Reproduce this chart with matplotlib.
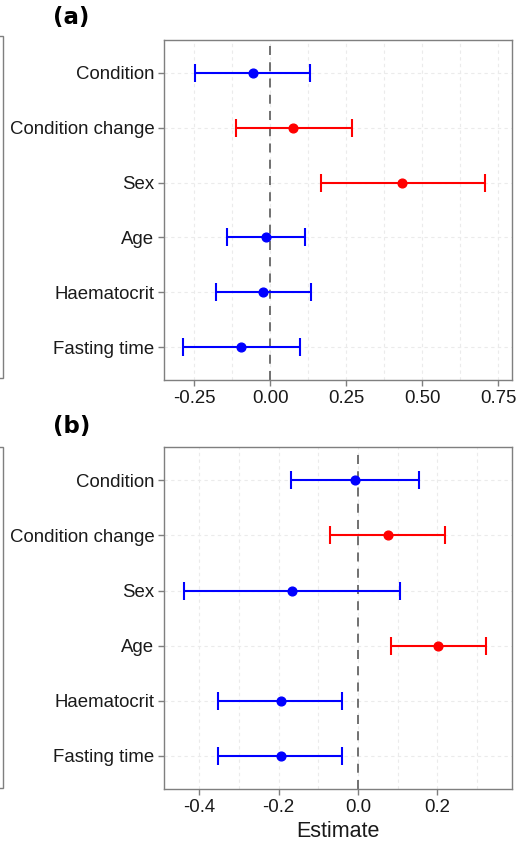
import numpy as np
import matplotlib.pyplot as plt
from matplotlib.patches import Rectangle

# Terms, top to bottom
terms = ['Condition', 'Condition change', 'Sex', 'Age', 'Haematocrit', 'Fasting time']

# Panel (a)
est_a = [-0.058, 0.076, 0.434, -0.015, -0.023, -0.096]
lo_a = [-0.247, -0.114, 0.166, -0.143, -0.179, -0.289]
hi_a = [0.131, 0.267, 0.706, 0.113, 0.135, 0.097]
flag_a = [0, 1, 1, 0, 0, 0]

# Panel (b)
est_b = [-0.008, 0.076, -0.166, 0.202, -0.193, -0.195]
lo_b = [-0.168, -0.071, -0.438, 0.083, -0.354, -0.353]
hi_b = [0.153, 0.219, 0.107, 0.323, -0.041, -0.041]
flag_b = [0, 1, 0, 1, 0, 0]

plt.rcParams['font.family'] = ['Liberation Sans', 'DejaVu Sans']

fig = plt.figure(figsize=(5.17, 8.44), dpi=100)
ax_a = fig.add_axes([0.3172, 0.5498, 0.6731, 0.4028])
ax_b = fig.add_axes([0.3172, 0.0652, 0.6731, 0.4049])


def forest(ax, est, lo, hi, flag, xlim, major, minor):
    y = np.arange(len(terms))
    ax.set_xlim(xlim)
    ax.set_ylim(len(terms) - 0.4, -0.6)
    ax.set_xticks(major)
    ax.set_xticks(minor, minor=True)
    ax.set_yticks(y)
    ax.set_yticklabels(terms)
    ax.grid(True, which='both', axis='x', color='#ebebeb', ls=(0, (3, 3)), lw=0.8)
    ax.grid(True, which='major', axis='y', color='#ebebeb', ls=(0, (3, 3)), lw=0.8)
    ax.set_axisbelow(True)
    ax.axvline(0, color='#666666', ls=(0, (5, 4)), lw=1.3, zorder=1)
    for i in range(len(terms)):
        c = '#ff0000' if flag[i] else '#0000ff'
        ax.errorbar(est[i], y[i], xerr=[[est[i] - lo[i]], [hi[i] - est[i]]],
                    fmt='o', color=c, ms=6.3, elinewidth=1.5, capsize=6.5,
                    capthick=1.5, zorder=3)
    for s in ax.spines.values():
        s.set_color('#7f7f7f')
        s.set_linewidth(1.0)
    ax.tick_params(axis='both', which='major', length=4, color='#7f7f7f',
                   width=1.0, labelsize=13.4, labelcolor='#1a1a1a', pad=3)
    ax.tick_params(axis='x', which='minor', length=0)


forest(ax_a, est_a, lo_a, hi_a, flag_a, (-0.35, 0.795),
       [-0.25, 0, 0.25, 0.5, 0.75], [-0.125, 0.125, 0.375, 0.625])
ax_a.set_xticklabels(['-0.25', '0.00', '0.25', '0.50', '0.75'])

forest(ax_b, est_b, lo_b, hi_b, flag_b, (-0.489, 0.388),
       [-0.4, -0.2, 0, 0.2], [-0.3, -0.1, 0.1, 0.3])
ax_b.set_xticklabels(['-0.4', '-0.2', '0.0', '0.2'])
ax_b.set_xlabel('Estimate', fontsize=15.5, color='#1a1a1a', labelpad=4)

fig.text(0.102, 0.979, '(a)', fontsize=16.5, fontweight='bold', family='DejaVu Sans',
         ha='left', va='center')
fig.text(0.102, 0.495, '(b)', fontsize=16.5, fontweight='bold', family='DejaVu Sans',
         ha='left', va='center')

# partial frames of neighbouring panels at the left edge
for y0, y1 in [(36, 378), (446.7, 788.3)]:
    fig.add_artist(Rectangle((-0.05, 1 - y1 / 844), 0.0565, (y1 - y0) / 844,
                             transform=fig.transFigure, fill=False,
                             edgecolor='#7f7f7f', lw=1.0))

fig.savefig('out.png', dpi=100)
